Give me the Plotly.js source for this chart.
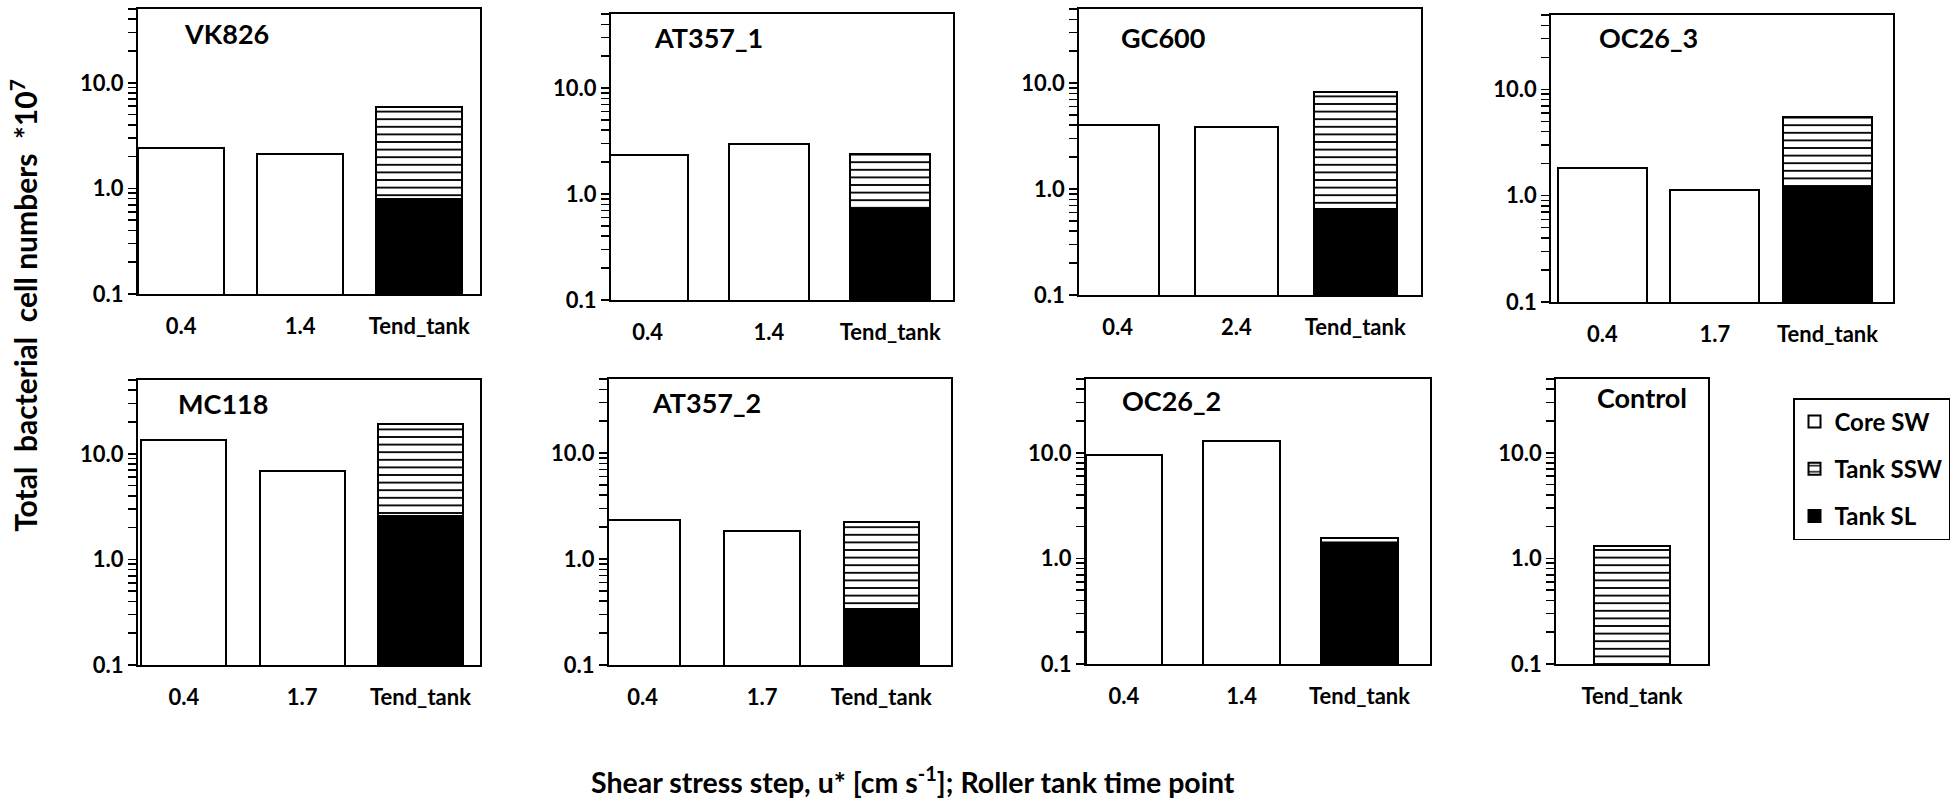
<!DOCTYPE html>
<html>
<head>
<meta charset="utf-8">
<script src="https://cdn.plot.ly/plotly-3.0.1.min.js"></script>
<style>
  html, body { margin: 0; padding: 0; background: #ffffff; }
  #chart { width: 1950px; height: 805px; }
</style>
</head>
<body>
<div id="chart"></div>
<script>
// ── Datos (células *10^7) ────────────────────────────────────────────────
const panelNames = ['VK826', 'AT357_1', 'GC600', 'OC26_3', 'MC118', 'AT357_2', 'OC26_2', 'Control'];
const shearSteps = [
  ['0.4', '1.4'], ['0.4', '1.4'], ['0.4', '2.4'], ['0.4', '1.7'],
  ['0.4', '1.7'], ['0.4', '1.7'], ['0.4', '1.4'], []
];
const tankLabel = 'Tend_tank';
const coreSW  = [[2.4, 2.1], [2.35, 2.95], [4.0, 3.85], [1.83, 1.14], [13.5, 6.8], [2.34, 1.84], [9.5, 13.0], []];
const tankSL  = [0.79, 0.72, 0.65, 1.2, 2.6, 0.34, 1.39, null];
const tankSSW = [5.1, 1.68, 7.55, 4.3, 16.4, 1.9, 0.16, 1.3];

const yTickVals = [0.1, 0.2, 0.3, 0.4, 0.5, 0.6, 0.7, 0.8, 0.9,
                   1, 2, 3, 4, 5, 6, 7, 8, 9, 10, 20, 30, 40, 50];
const yTickText = yTickVals.map(v => v === 0.1 ? '0.1' : v === 1 ? '1.0' : v === 10 ? '10.0' : ' ');

// ── Geometría de cada panel (px en la página de 1950x805) ────────────────
const W = 1950, H = 805;
const panels = [
  { x0: 139,  x1: 484,  y0: 9,   y1: 294, range: [-0.364, 2.511], bw: 0.72, tx: 228,  ty: 33 },
  { x0: 616,  x1: 961,  y0: 14,  y1: 300, range: [-0.303, 2.519], bw: 0.66, tx: 714,  ty: 37 },
  { x0: 1088, x1: 1433, y0: 9,   y1: 295, range: [-0.325, 2.556], bw: 0.70, tx: 1173, ty: 37 },
  { x0: 1564, x1: 1909, y0: 15,  y1: 302, range: [-0.455, 2.585], bw: 0.79, tx: 1662, ty: 37 },
  { x0: 139,  x1: 484,  y0: 380, y1: 665, range: [-0.389, 2.504], bw: 0.72, tx: 225,  ty: 403 },
  { x0: 614,  x1: 959,  y0: 379, y1: 665, range: [-0.283, 2.585], bw: 0.63, tx: 712,  ty: 402 },
  { x0: 1095, x1: 1442, y0: 379, y1: 664, range: [-0.322, 2.600], bw: 0.65, tx: 1181, ty: 400 },
  { x0: 1569, x1: 1722, y0: 379, y1: 664, range: [-0.5, 0.5],     bw: 0.50, tx: 1656, ty: 397 }
];

const FONT = 'Lato, "Open Sans", sans-serif';
const edge = { color: '#000000', width: 2 };
const tickFont = { family: FONT, size: 22, weight: 700, color: '#000000' };

const traces = [];
const layout = {
  width: W, height: H,
  margin: { l: 0, r: 0, t: 0, b: 0 },
  paper_bgcolor: '#ffffff',
  plot_bgcolor:  '#ffffff',
  barmode: 'stack',
  font: { family: FONT, color: '#000000', size: 22, weight: 700 },
  showlegend: true,
  legend: {
    x: 1808 / W, y: 1 - 398 / H, xanchor: 'left', yanchor: 'top',
    bordercolor: '#000000', borderwidth: 1.5, bgcolor: '#ffffff',
    font: { family: FONT, size: 24, weight: 700, color: '#000000' },
    traceorder: 'grouped', tracegroupgap: 13
  },
  annotations: []
};

panels.forEach((p, i) => {
  const n  = i + 1;
  const xa = 'x' + n, ya = 'y' + n;
  const cats = shearSteps[i].concat([tankLabel]);

  if (coreSW[i].length) {
    traces.push({
      type: 'bar', name: 'Core SW', legendgroup: 'core', legendrank: 1, showlegend: i === 0,
      x: shearSteps[i], y: coreSW[i], width: p.bw,
      marker: { color: '#ffffff', line: edge },
      xaxis: xa, yaxis: ya
    });
  }
  if (tankSL[i] != null) {
    traces.push({
      type: 'bar', name: 'Tank SL', legendgroup: 'sl', legendrank: 3, showlegend: i === 0,
      x: [tankLabel], y: [tankSL[i]], width: p.bw,
      marker: { color: '#000000', line: edge },
      xaxis: xa, yaxis: ya
    });
  }
  traces.push({
    type: 'bar', name: 'Tank SSW', legendgroup: 'ssw', legendrank: 2, showlegend: i === 0,
    x: [tankLabel], y: [tankSSW[i]], width: p.bw,
    marker: {
      color: '#ffffff', line: edge,
      pattern: { shape: '-', fgcolor: '#000000', bgcolor: '#ffffff', fgopacity: 1, size: 7.6, solidity: 0.24 }
    },
    xaxis: xa, yaxis: ya
  });

  layout['xaxis' + n] = {
    domain: [p.x0 / W, p.x1 / W],
    anchor: ya,
    type: 'category',
    categoryorder: 'array', categoryarray: cats,
    range: p.range,
    showline: true, mirror: true, linecolor: '#000000', linewidth: 2,
    showgrid: false, zeroline: false, ticks: '',
    ticklabelstandoff: 12,
    tickfont: tickFont,
    fixedrange: true
  };
  layout['yaxis' + n] = {
    domain: [1 - p.y1 / H, 1 - p.y0 / H],
    anchor: xa,
    type: 'log',
    range: [-1, Math.log10(50)],
    tickmode: 'array', tickvals: yTickVals, ticktext: yTickText,
    ticks: 'outside', ticklen: 8, tickwidth: 1.5, tickcolor: '#000000',
    showline: true, mirror: true, linecolor: '#000000', linewidth: 2,
    showgrid: false, zeroline: false,
    tickfont: tickFont,
    fixedrange: true
  };

  layout.annotations.push({
    text: panelNames[i], xref: 'paper', yref: 'paper',
    x: p.tx / W, y: 1 - p.ty / H, xanchor: 'center', yanchor: 'middle',
    showarrow: false, font: { family: FONT, size: 27, weight: 700, color: '#000000' }
  });
});

// títulos generales
layout.annotations.push({
  text: 'Total  bacterial  cell numbers  *10<sup>7</sup>',
  xref: 'paper', yref: 'paper', x: 24 / W, y: 1 - 305 / H,
  xanchor: 'center', yanchor: 'middle', textangle: -90, showarrow: false,
  font: { family: FONT, size: 30, weight: 700, color: '#000000' }
});
layout.annotations.push({
  text: 'Shear stress step, u* [cm s<sup>-1</sup>]; Roller tank time point',
  xref: 'paper', yref: 'paper', x: 921 / W, y: 1 - 780 / H,
  xanchor: 'center', yanchor: 'middle', showarrow: false,
  font: { family: FONT, size: 28.5, weight: 700, color: '#000000' }
});

Plotly.newPlot('chart', traces, layout, { displayModeBar: false, staticPlot: true });
</script>
</body>
</html>
